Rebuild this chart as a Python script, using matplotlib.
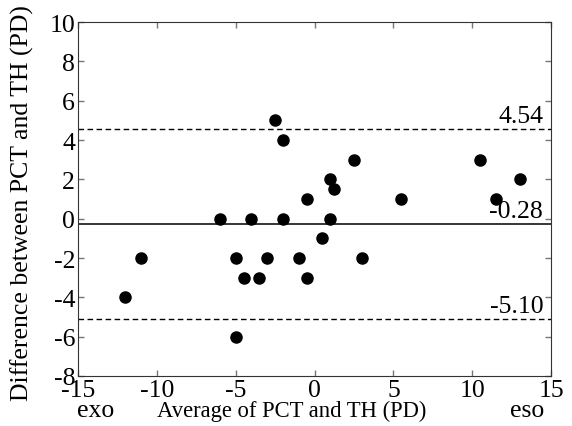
import matplotlib
matplotlib.use("Agg")
import matplotlib.pyplot as plt
import matplotlib.transforms as mtransforms

plt.rcParams['font.family'] = ['Liberation Serif', 'DejaVu Serif']
plt.rcParams['axes.unicode_minus'] = False

# Bland-Altman data (PD)
avg = [-12, -11, -6, -4, -2, 1, -5, -3, -1, -4.5, -3.5, -0.5, 0.5, 3, -5,
       -2.5, -2, 2.5, 1, 1.25, -0.5, 5.5, 10.5, 13, 11.5]
diff = [-4, -2, 0, 0, 0, 0, -2, -2, -2, -3, -3, -3, -1, -2, -6,
        5, 4, 3, 2, 1.5, 1, 1, 3, 2, 1]
mean_diff = -0.28
upper_loa = 4.54
lower_loa = -5.10

fig = plt.figure(figsize=(5.72, 4.27), dpi=100)
ax = fig.add_axes([0.1364, 0.1171, 0.827, 0.829])

ax.scatter(avg, diff, s=64, color='black', zorder=3)
ax.axhline(mean_diff, color='black', lw=1.1)
ax.axhline(upper_loa, color='black', lw=1.0, ls=(0, (4, 2.5)))
ax.axhline(lower_loa, color='black', lw=1.0, ls=(0, (4, 2.5)))

fs = 18.5
for val in (upper_loa, mean_diff, lower_loa):
    ax.text(14.5, val + 0.12, f"{val:.2f}", ha='right', va='bottom', fontsize=fs)

ax.set_xlim(-15, 15)
ax.set_ylim(-8, 10)
ax.set_xticks(range(-15, 16, 5))
ax.set_yticks(range(-8, 11, 2))
ax.tick_params(direction='in', length=4, width=1, color='#777777',
               labelsize=fs, pad=2, top=True, right=True)
for sp in ax.spines.values():
    sp.set_color('#333333')

ax.set_ylabel('Difference between PCT and TH (PD)', fontsize=fs)
ax.yaxis.set_label_coords(-0.094, 0.49)
ax.set_xlabel('Average of PCT and TH (PD)', fontsize=16.3)
ax.xaxis.set_label_coords(0.452, -0.066)

trans = mtransforms.blended_transform_factory(ax.transData, ax.transAxes)
ax.text(-13.9, -0.066, 'exo', ha='center', va='top', fontsize=fs, transform=trans)
ax.text(13.5, -0.066, 'eso', ha='center', va='top', fontsize=fs, transform=trans)

fig.savefig('out.png', dpi=100)
